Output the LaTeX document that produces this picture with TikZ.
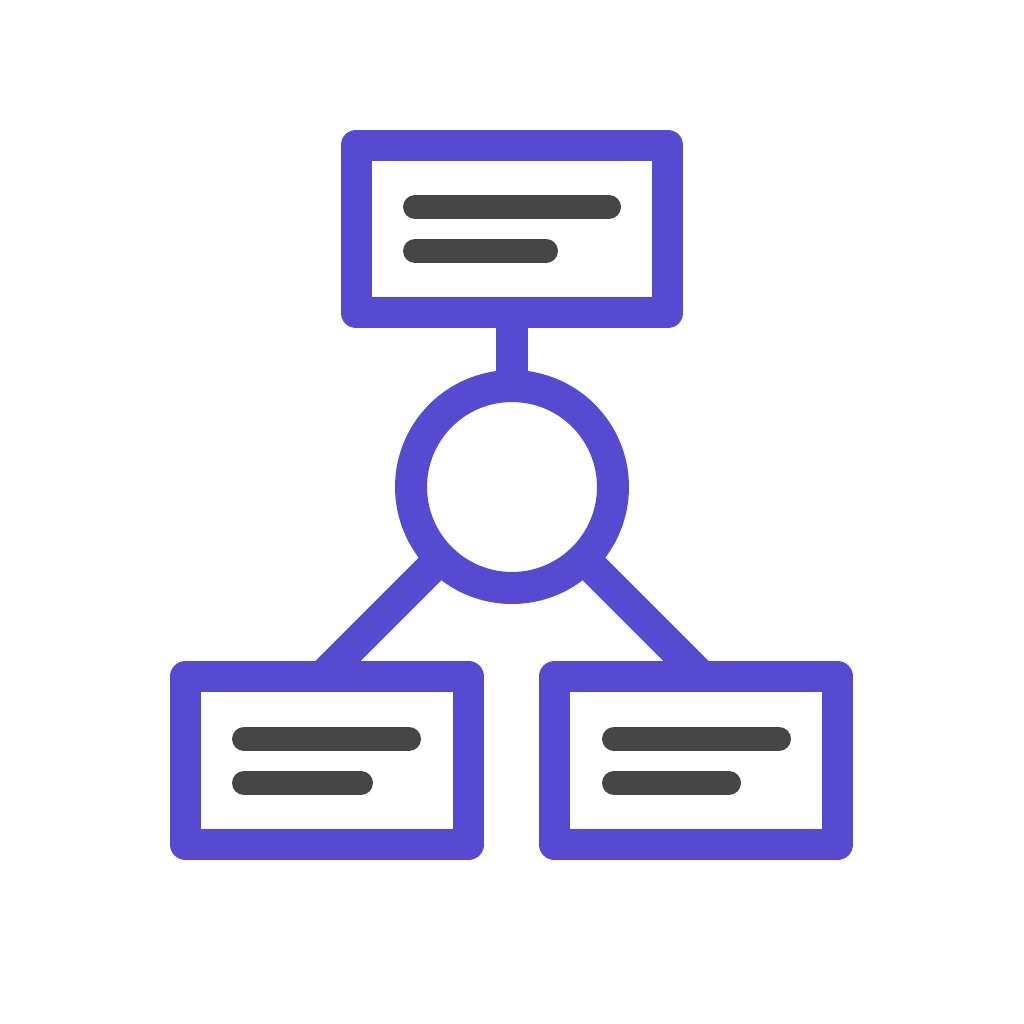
\documentclass[tikz,border=0pt]{standalone}
\usepackage{tikz}
\definecolor{iconpurple}{RGB}{86,74,208}
\definecolor{bargray}{RGB}{70,70,70}

\begin{document}
\begin{tikzpicture}[
  x=0.02cm, y=-0.02cm,
  card/.style={draw=iconpurple, line width=0.62cm, line join=round,
               outer sep=0pt, inner sep=0pt},
  hubring/.style={circle, draw=iconpurple, line width=0.64cm,
                  minimum size=4.04cm, outer sep=0pt, inner sep=0pt},
  link/.style={iconpurple, line width=0.64cm},
  bar/.style={bargray, line width=0.48cm, line cap=round},
]

% Page frame
\useasboundingbox (0,0) rectangle (1024,1024);

% Cards and hub
\node[card, minimum width=6.24cm, minimum height=3.36cm] (top) at (512,229) {};
\node[card, minimum width=5.66cm, minimum height=3.36cm] (left) at (327,760.5) {};
\node[card, minimum width=5.66cm, minimum height=3.36cm] (right) at (696,760.5) {};
\node[hubring] (hub) at (512,487) {};

% Connectors
\draw[link] (top.south) -- (hub.north);
\draw[link] (hub.225) -- (intersection cs: first line={(hub.center)--(hub.225)},
  second line={(left.north west)--(left.north east)});
\draw[link] (hub.315) -- (intersection cs: first line={(hub.center)--(hub.315)},
  second line={(right.north west)--(right.north east)});

% Text bars
\draw[bar] ([shift={(-97,-22)}]top.center) -- ++(194,0);
\draw[bar] ([shift={(-97,22)}]top.center) -- ++(131,0);
\draw[bar] ([shift={(-83,-21.5)}]left.center) -- ++(165,0);
\draw[bar] ([shift={(-83,22.5)}]left.center) -- ++(117,0);
\draw[bar] ([shift={(-82,-21.5)}]right.center) -- ++(165,0);
\draw[bar] ([shift={(-82,22.5)}]right.center) -- ++(115,0);

\end{tikzpicture}
\end{document}
